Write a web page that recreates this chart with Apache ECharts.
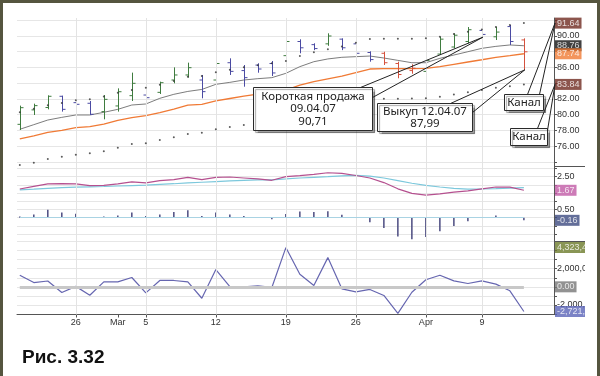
<!DOCTYPE html>
<html>
<head>
<meta charset="utf-8">
<script src="https://cdn.jsdelivr.net/npm/echarts@6/dist/echarts.min.js"></script>
<style>
  body { margin: 0; background: #fff; }
  #chart { position: absolute; left: 0; top: 0; width: 585px; height: 376px; }
  .frame { position: absolute; left: 0; top: 0; width: 600px; height: 380px; box-sizing: border-box;
           border: 3px solid #55553f; border-bottom: none; pointer-events: none; }
</style>
</head>
<body>
<div id="chart"></div>
<div class="frame"></div>
<script>
// торговые дни, 20.02.2007 - 12.04.2007
const DATES = ["Feb 20", "Feb 21", "Feb 22", "Feb 23", "Feb 26", "Feb 27", "Feb 28", "Mar 1", "Mar 2",
  "Mar 5", "Mar 6", "Mar 7", "Mar 8", "Mar 9", "Mar 12", "Mar 13", "Mar 14", "Mar 15", "Mar 16",
  "Mar 19", "Mar 20", "Mar 21", "Mar 22", "Mar 23", "Mar 26", "Mar 27", "Mar 28", "Mar 29", "Mar 30",
  "Apr 2", "Apr 3", "Apr 4", "Apr 5", "Apr 9", "Apr 10", "Apr 11", "Apr 12"]
const AXIS_LABEL_IDX = [4, 7, 9, 14, 19, 24, 29, 33]
const AXIS_LABELS = ["26", "Mar", "5", "12", "19", "26", "Apr", "9"]
const WEEK_IDX = [4, 9, 14, 19, 24, 29, 33]

// бары OHLC
const OPEN = [78.76, 80.6, 80.9, 82.33, 81.52, 81.44, 80.38, 81.1, 82.41, 82.49, 82.83, 84.4, 85.04, 84.4, 84.4,
  86.6, 85.6, 86.3, 86.5, 87.5, 89.3, 88.9, 89.0, 89.6, 89.0, 87.9, 87.8, 86.5, 85.6, 85.5, 87.7, 88.6, 89.3,
  90.71, 89.9, 91.2, 89.5]
const HIGH = [81.14, 81.39, 82.45, 82.41, 81.9, 81.73, 82.49, 83.34, 85.34, 83.68, 84.19, 86.01, 86.61, 85.04,
  86.73, 87.16, 86.31, 86.53, 86.82, 89.58, 89.58, 89.07, 90.34, 89.7, 89.4, 88.05, 88.0, 86.73, 86.4, 87.16,
  89.91, 90.34, 91.14, 90.98, 91.18, 91.4, 89.7]
const LOW = [78.04, 79.95, 80.67, 80.38, 79.95, 79.95, 79.4, 80.38, 81.73, 80.17, 82.62, 83.98, 84.7, 82.07,
  84.19, 85.04, 83.55, 85.33, 84.91, 87.29, 87.8, 88.2, 88.75, 88.2, 87.37, 86.73, 86.31, 84.62, 85.2, 85.25,
  87.58, 88.43, 89.07, 89.95, 89.49, 88.86, 85.7]
const CLOSE = [80.88, 81.14, 82.33, 80.67, 81.31, 80.04, 81.94, 82.91, 83.98, 82.15, 84.06, 85.04, 85.97, 82.92,
  86.5, 85.5, 84.7, 85.8, 85.3, 89.3, 88.5, 88.4, 90.0, 88.5, 87.8, 87.0, 86.6, 85.1, 85.9, 86.9, 89.6, 90.1,
  90.8, 90.2, 90.5, 89.3, 87.99]
const BAR_KIND = "gggbbbgggbgggbgbbbbgbbgbbbrrrggggbgbr"

// скользящие и канал
const MA = [78.13, 78.72, 79.31, 79.65, 79.95, 79.95, 80.29, 80.67, 81.22, 81.35, 82.07, 82.58, 82.95, 83.2,
  83.85, 84.1, 84.4, 84.57, 84.7, 85.25, 86.1, 86.73, 87.08, 87.29, 87.37, 87.45, 87.2, 86.9, 86.6, 86.6,
  87.16, 87.58, 88.0, 88.43, 88.68, 88.86, 88.76]
const EMA = [76.9, 77.3, 77.74, 78.0, 78.33, 78.46, 78.8, 79.27, 79.61, 79.86, 80.25, 80.71, 81.2, 81.3, 81.75,
  82.05, 82.35, 82.6, 82.85, 83.13, 83.75, 84.2, 84.55, 84.9, 85.35, 85.8, 85.84, 85.84, 85.85, 85.89, 86.1,
  86.4, 86.69, 86.98, 87.28, 87.5, 87.74]
const UPPER = [80.31, 80.73, 81.19, 81.46, 81.81, 81.94, 82.3, 82.79, 83.14, 83.41, 83.81, 84.29, 84.8, 84.91,
  85.38, 85.69, 86.01, 86.27, 86.53, 86.82, 87.47, 87.94, 88.3, 88.67, 89.14, 89.61, 89.65, 89.65, 89.66,
  89.7, 89.92, 90.24, 90.54, 90.84, 91.15, 91.39, 91.64]
const LOWER = [73.59, 73.88, 74.35, 74.64, 74.9, 75.08, 75.33, 75.79, 76.26, 76.35, 76.77, 77.12, 77.54, 77.69,
  78.12, 78.41, 78.69, 78.93, 79.17, 79.44, 80.03, 80.46, 80.8, 81.13, 81.56, 81.99, 82.03, 82.03, 82.04,
  82.08, 82.28, 82.56, 82.84, 83.12, 83.4, 83.62, 83.84]

// MACD
const MACD = [1.75, 1.91, 2.06, 2.08, 2.06, 1.95, 1.97, 2.06, 2.18, 2.12, 2.26, 2.32, 2.46, 2.32, 2.46, 2.48,
  2.42, 2.36, 2.28, 2.5, 2.56, 2.64, 2.74, 2.7, 2.57, 2.42, 2.14, 1.76, 1.48, 1.38, 1.45, 1.56, 1.63, 1.76,
  1.87, 1.86, 1.67]
const SIGNAL = [1.7, 1.74, 1.79, 1.83, 1.86, 1.88, 1.9, 1.93, 1.96, 1.99, 2.03, 2.07, 2.12, 2.16, 2.2, 2.24,
  2.28, 2.3, 2.31, 2.36, 2.42, 2.46, 2.5, 2.55, 2.58, 2.53, 2.42, 2.26, 2.1, 1.97, 1.87, 1.79, 1.74, 1.75,
  1.77, 1.8, 1.83]
const HIST = [0.08, 0.2, 0.49, 0.32, 0.24, 0.02, 0.08, 0.14, 0.32, 0.1, 0.2, 0.35, 0.45, 0.1, 0.32, 0.2, 0.1,
  0.02, -0.1, 0.22, 0.38, 0.35, 0.4, 0.18, 0.01, -0.27, -0.63, -1.14, -1.32, -1.18, -0.82, -0.51, -0.22,
  -0.01, 0.14, 0.04, -0.16]

// нижний осциллятор
const OSC = [1270000, 470000, 640000, -620000, 50000, -930000, 550000, 550000, 1030000, -670000, 700000,
  700000, 550000, -1260000, 1900000, 20000, 10000, 100000, -70000, 4323412, 1380000, 150000, 3220000,
  -220000, -550000, -290000, -950000, -2930000, -600000, 780000, 1280000, 650000, 370000, 650000, 300000,
  -440000, -2721350]

const PRICE_TICKS = [74, 76, 78, 80, 82, 84, 86, 88, 90, 92]
const PRICE_LABELS = [76, 78, 80, 82, 86, 90]
const MACD_TICKS = [-1, -0.5, 0, 0.5, 1, 1.5, 2, 2.5, 3]
const MACD_LABELS = [0.5, 2.5]
const OSC_TICKS = [-3e6, -2e6, -1e6, 0, 1e6, 2e6, 3e6, 4e6, 5e6]
const OSC_LABELS = [-2e6, 2e6]

const LAST = DATES.length - 1
const X_MIN = -0.2
const X_MAX = 38.15
const PLOT_LEFT = 17
const PLOT_WIDTH = 537
const GRIDS = [
  { top: 18, height: 148 },
  { top: 166, height: 75 },
  { top: 241, height: 73.5 }
]
const FONT = "'Liberation Sans', Arial, sans-serif"
const BAR_COLORS = { g: "#3f7c3f", b: "#4b4ba3", r: "#d4523e" }

const CALLOUTS = [
  { lines: ["Короткая продажа", "09.04.07", "90,71"], center: [20.9, 80.8], size: [119, 43], tip: [33, 89.85], base: [-12, 0, 0, 10] },
  { lines: ["Выкуп 12.04.07", "87,99"], center: [28.9, 79.7], size: [95, 28], tip: [36, 85.7], base: [-22, 0, 0, 9] },
  { lines: ["Канал"], center: [36.0, 81.6], size: [39, 16], tip: [X_MAX, 91.64], base: [-16, 0, -4, 0] },
  { lines: ["Канал"], center: [36.3, 77.2], size: [37, 17], tip: [X_MAX, 83.84], base: [-10, 0, 0, 2] }
]

const chart = echarts.init(document.getElementById("chart"))

const pairs = (arr) => arr.map((v, i) => [i, v])

function renderOhlc(params, api) {
  const i = api.value(0)
  const pO = api.coord([i, api.value(1)])
  const pH = api.coord([i, api.value(2)])
  const pL = api.coord([i, api.value(3)])
  const pC = api.coord([i, api.value(4)])
  const color = BAR_COLORS[BAR_KIND[params.dataIndex]]
  const x = Math.round(pH[0]) + 0.5
  return {
    type: "group",
    children: [
      { type: "line", shape: { x1: x, y1: pH[1], x2: x, y2: pL[1] }, style: { stroke: color, lineWidth: 1 } },
      { type: "line", shape: { x1: x - 3, y1: pO[1], x2: x, y2: pO[1] }, style: { stroke: color, lineWidth: 1 } },
      { type: "line", shape: { x1: x, y1: pC[1], x2: x + 3, y2: pC[1] }, style: { stroke: color, lineWidth: 1 } }
    ]
  }
}

function xAxisHidden(gridIndex) {
  return {
    type: "value", gridIndex, min: X_MIN, max: X_MAX, show: false,
    axisLine: { onZero: false }
  }
}

// недельные вертикальные линии сетки
function weekLines(axisIndex) {
  return {
    type: "line", xAxisIndex: axisIndex, yAxisIndex: axisIndex, data: [], silent: true, z: 0,
    markLine: {
      silent: true, symbol: "none", label: { show: false },
      lineStyle: { color: "#e3e3e3", width: 1, type: "solid" },
      data: WEEK_IDX.map((i) => ({ xAxis: i }))
    }
  }
}

function yAxisCfg(gridIndex, min, max, ticks, labels, formatter) {
  return {
    type: "value", gridIndex, position: "right", min, max, scale: true,
    axisLine: { show: true, onZero: false, lineStyle: { color: "#555" } },
    axisTick: { show: true, length: 3, customValues: ticks, lineStyle: { color: "#555" } },
    axisLabel: { customValues: labels, margin: 3, fontSize: 9, color: "#333", fontFamily: FONT, formatter },
    splitLine: { show: true, lineStyle: { color: "#e6e6e6", width: 1 } }
  }
}

function badgeSeries(xAxisIndex, yAxisIndex, items, formatter) {
  return {
    type: "scatter", xAxisIndex, yAxisIndex, symbolSize: 0, silent: true, z: 20, clip: false,
    labelLayout: { moveOverlap: "shiftY" },
    label: {
      show: true, position: "right", distance: 1, color: "#fff", fontSize: 9, fontFamily: FONT,
      padding: [1, 2, 1, 2], lineHeight: 9,
      formatter: (p) => formatter(p.value[1])
    },
    data: items.map((it) => ({ value: [X_MAX, it.v], label: { backgroundColor: it.c } }))
  }
}

const fmtPrice = (v) => v.toFixed(2)
const fmtBig = (v) => (v === 0 ? "0.00" : v.toLocaleString("en-US"))

const option = {
  animation: false,
  backgroundColor: "#fff",
  title: {
    text: "Рис. 3.32", left: 17, top: 343,
    textStyle: { fontSize: 19, fontWeight: "bold", color: "#111", fontFamily: FONT }
  },
  grid: GRIDS.map((g) => ({ left: PLOT_LEFT, width: PLOT_WIDTH, top: g.top, height: g.height, outerBoundsMode: "none" })),
  xAxis: [
    xAxisHidden(0),
    xAxisHidden(1),
    {
      type: "value", gridIndex: 2, min: X_MIN, max: X_MAX, position: "bottom",
      axisLine: { show: true, onZero: false, lineStyle: { color: "#555" } },
      axisTick: { show: true, length: 3, customValues: AXIS_LABEL_IDX, lineStyle: { color: "#555" } },
      axisLabel: {
        customValues: AXIS_LABEL_IDX, margin: 4, fontSize: 9, color: "#333", fontFamily: FONT,
        formatter: (v) => AXIS_LABELS[AXIS_LABEL_IDX.indexOf(Math.round(v))]
      },
      splitLine: { show: false }
    }
  ],
  yAxis: [
    yAxisCfg(0, 73.46, 92.29, PRICE_TICKS, PRICE_LABELS, fmtPrice),
    yAxisCfg(1, -1.42, 3.15, MACD_TICKS, MACD_LABELS, fmtPrice),
    yAxisCfg(2, -3.05e6, 5.05e6, OSC_TICKS, OSC_LABELS, fmtBig)
  ],
  series: [
    weekLines(0),
    weekLines(1),
    weekLines(2),

    // ценовая панель
    {
      type: "line", xAxisIndex: 0, yAxisIndex: 0, data: pairs(MA), symbol: "none", silent: true,
      lineStyle: { color: "#7d7d7d", width: 1 }, z: 3
    },
    {
      type: "line", xAxisIndex: 0, yAxisIndex: 0, data: pairs(EMA), symbol: "none", silent: true,
      lineStyle: { color: "#f07a35", width: 1.3 }, z: 3
    },
    {
      type: "custom", xAxisIndex: 0, yAxisIndex: 0, renderItem: renderOhlc, silent: true, z: 4,
      encode: { x: 0, y: [1, 2, 3, 4] },
      data: OPEN.map((o, i) => [i, o, HIGH[i], LOW[i], CLOSE[i]])
    },
    {
      type: "scatter", xAxisIndex: 0, yAxisIndex: 0, data: pairs(UPPER), symbolSize: 2, silent: true, clip: false,
      itemStyle: { color: "#333" }, z: 5
    },
    {
      type: "scatter", xAxisIndex: 0, yAxisIndex: 0, data: pairs(LOWER), symbolSize: 2, silent: true, clip: false,
      itemStyle: { color: "#333" }, z: 5
    },
    badgeSeries(0, 0, [
      { v: UPPER[LAST], c: "#6f2b20" },
      { v: MA[LAST], c: "#111" },
      { v: EMA[LAST], c: "#f07a35" },
      { v: LOWER[LAST], c: "#6f2b20" }
    ], fmtPrice),

    // MACD
    {
      type: "line", xAxisIndex: 1, yAxisIndex: 1, data: [], silent: true, z: 1,
      markLine: {
        silent: true, symbol: "none", label: { show: false },
        lineStyle: { color: "#a9d3e3", width: 1, type: "solid" },
        data: [[{ coord: [0, 0] }, { coord: [LAST, 0] }]]
      }
    },
    {
      type: "bar", xAxisIndex: 1, yAxisIndex: 1, data: pairs(HIST), barWidth: 1.5, silent: true,
      itemStyle: { color: "#4b4b80" }, z: 2
    },
    {
      type: "line", xAxisIndex: 1, yAxisIndex: 1, data: pairs(SIGNAL), symbol: "none", silent: true,
      lineStyle: { color: "#7cc8dc", width: 1.2 }, z: 3
    },
    {
      type: "line", xAxisIndex: 1, yAxisIndex: 1, data: pairs(MACD), symbol: "none", silent: true,
      lineStyle: { color: "#b5508f", width: 1.2 }, z: 4
    },
    badgeSeries(1, 1, [
      { v: MACD[LAST], c: "#c05aa5" },
      { v: HIST[LAST], c: "#3c4a80" }
    ], fmtPrice),

    // осциллятор
    {
      type: "line", xAxisIndex: 2, yAxisIndex: 2, data: [], silent: true, z: 1,
      markLine: {
        silent: true, symbol: "none", label: { show: false },
        lineStyle: { color: "#c8c8c8", width: 3, type: "solid" },
        data: [[{ coord: [0, 0] }, { coord: [LAST, 0] }]]
      }
    },
    {
      type: "line", xAxisIndex: 2, yAxisIndex: 2, data: pairs(OSC), symbol: "none", silent: true,
      lineStyle: { color: "#6666b0", width: 1.2 }, z: 3
    },
    badgeSeries(2, 2, [
      { v: Math.max(...OSC), c: "#6b7a2a" },
      { v: 0, c: "#777" },
      { v: OSC[LAST], c: "#5a64b8" }
    ], fmtBig)
  ]
}

chart.setOption(option)

// выноски и разделители панелей
function buildGraphics() {
  const els = []
  const right = PLOT_LEFT + PLOT_WIDTH
  GRIDS.slice(1).forEach((g) => {
    els.push({
      type: "line", z: 50, silent: true,
      shape: { x1: right, y1: g.top + 0.5, x2: 585, y2: g.top + 0.5 },
      style: { stroke: "#555", lineWidth: 1 }
    })
  })
  CALLOUTS.forEach((c) => {
    const ctr = chart.convertToPixel({ xAxisIndex: 0, yAxisIndex: 0 }, c.center)
    const tip = chart.convertToPixel({ xAxisIndex: 0, yAxisIndex: 0 }, c.tip)
    const w = c.size[0]
    const h = c.size[1]
    const left = Math.round(ctr[0] - w / 2) + 0.5
    const top = Math.round(ctr[1] - h / 2) + 0.5
    const boxRight = left + w
    els.push({
      type: "rect", z: 100, silent: true,
      shape: { x: left, y: top, width: w, height: h },
      style: {
        fill: "#fff", stroke: "#2a2a2a", lineWidth: 1,
        shadowColor: "rgba(0,0,0,0.35)", shadowOffsetX: 2, shadowOffsetY: 2, shadowBlur: 1
      }
    })
    els.push({
      type: "text", z: 101, silent: true,
      style: {
        text: c.lines.join("\n"), x: left + w / 2, y: top + h / 2,
        align: "center", verticalAlign: "middle", textAlign: "center", textVerticalAlign: "middle",
        font: "11.5px 'Noto Sans'", lineHeight: 12.5, fill: "#222"
      }
    })
    const b = c.base
    ;[[boxRight + b[0], top + b[1]], [boxRight + b[2], top + b[3]]].forEach((p) => {
      els.push({
        type: "line", z: 101, silent: true,
        shape: { x1: p[0], y1: p[1], x2: tip[0] + 1, y2: tip[1] },
        style: { stroke: "#222", lineWidth: 1 }
      })
    })
  })
  return els
}

chart.setOption({ graphic: buildGraphics() })
</script>
</body>
</html>
